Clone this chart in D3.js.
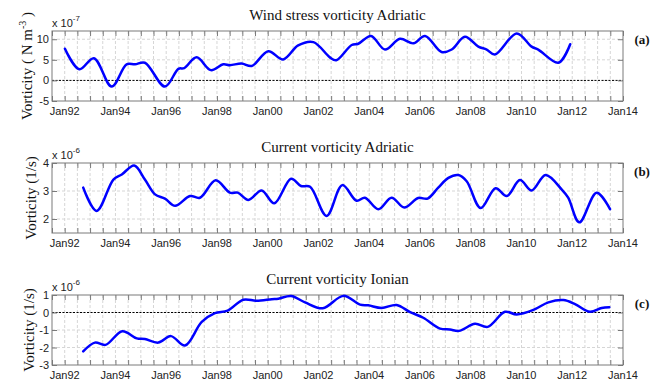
<!DOCTYPE html>
<html>
<head>
<meta charset="utf-8">
<script src="https://cdn.jsdelivr.net/npm/d3@7"></script>
<style>
  html, body { margin: 0; padding: 0; background: #fff; }
  svg { display: block; }
</style>
</head>
<body>
<svg id="chart" width="660" height="386"></svg>
<script>
// Time axis (decimal years) and its labels
const xLimits = [1991.5, 2014];
const xTickYears = [1992, 1994, 1996, 1998, 2000, 2002, 2004, 2006, 2008, 2010, 2012, 2014];
const xTickLabels = ["Jan92", "Jan94", "Jan96", "Jan98", "Jan00", "Jan02", "Jan04", "Jan06", "Jan08", "Jan10", "Jan12", "Jan14"];

// (a) Wind stress vorticity Adriatic, x 10^-7 N m^-3
const windYears = [1992.01, 1992.58, 1993.15, 1993.85, 1994.44, 1994.77, 1995.16, 1995.95, 1996.48, 1996.71, 1997.2, 1997.76, 1998.25, 1998.51, 1998.97, 1999.37, 2000.02, 2000.61, 2001.2, 2001.8, 2002.45, 2002.7, 2003.31, 2003.57, 2004.07, 2004.62, 2005.21, 2005.74, 2006.2, 2006.85, 2007.25, 2007.77, 2008.3, 2008.63, 2008.95, 2009.81, 2010.4, 2010.66, 2011.45, 2011.92];
const windValues = [7.7, 2.7, 5.4, -1.5, 3.9, 3.9, 4.3, -1.5, 2.8, 3.0, 5.6, 2.5, 3.9, 3.7, 4.1, 3.5, 7.1, 5.1, 8.5, 9.3, 5.6, 4.9, 8.6, 8.9, 10.8, 7.5, 10.1, 9.0, 10.8, 6.9, 7.5, 10.6, 8.2, 7.5, 6.3, 11.4, 8.2, 7.5, 4.3, 8.8];

// (b) Current vorticity Adriatic, x 10^-6 1/s
const adriaticYears = [1992.73, 1993.26, 1993.92, 1994.25, 1994.74, 1995.16, 1995.56, 1995.95, 1996.35, 1996.94, 1997.33, 1997.95, 1998.51, 1998.82, 1999.24, 1999.76, 2000.26, 2000.92, 2001.31, 2001.67, 2002.32, 2002.94, 2003.5, 2003.83, 2004.36, 2004.88, 2005.38, 2005.93, 2006.3, 2006.72, 2007.12, 2007.51, 2007.84, 2008.39, 2008.98, 2009.42, 2009.94, 2010.4, 2010.95, 2011.58, 2011.84, 2012.28, 2012.96, 2013.49];
const adriaticValues = [3.12, 2.29, 3.41, 3.59, 3.91, 3.41, 2.88, 2.73, 2.47, 2.82, 2.76, 3.38, 2.94, 2.94, 2.68, 3.02, 2.56, 3.44, 3.18, 3.15, 2.11, 3.21, 2.65, 2.76, 2.35, 2.76, 2.41, 2.75, 2.73, 3.12, 3.47, 3.57, 3.35, 2.39, 3.10, 2.82, 3.39, 3.02, 3.57, 3.06, 2.76, 1.88, 2.94, 2.35];

// (c) Current vorticity Ionian, x 10^-6 1/s
const ionianYears = [1992.73, 1993.19, 1993.61, 1994.27, 1994.84, 1995.16, 1995.69, 1996.19, 1996.74, 1997.4, 1997.92, 1998.42, 1999.04, 1999.56, 2000.16, 2000.42, 2000.92, 2001.47, 2002.17, 2002.98, 2003.64, 2003.96, 2004.49, 2005.08, 2005.61, 2006.13, 2006.79, 2007.18, 2007.54, 2008.17, 2008.67, 2009.35, 2009.81, 2010.47, 2011.06, 2011.65, 2012.11, 2012.7, 2013.16, 2013.46];
const ionianValues = [-2.22, -1.72, -1.85, -1.07, -1.48, -1.52, -1.72, -1.35, -1.89, -0.54, -0.04, 0.11, 0.73, 0.67, 0.76, 0.79, 0.94, 0.58, 0.24, 0.95, 0.45, 0.41, 0.26, 0.43, 0.02, -0.30, -0.92, -0.97, -1.05, -0.64, -0.82, 0.04, -0.11, 0.15, 0.58, 0.71, 0.48, 0.04, 0.26, 0.30];

// Panel settings
const panels = [
  { title: "Wind stress vorticity Adriatic", tag: "(a)", years: windYears, values: windValues,
    yDomain: [-5, 12], yTicks: [-5, 0, 5, 10], exponent: "-7", zeroLine: true,
    yLabel: "wind", top: 31, labelX: 32 },
  { title: "Current vorticity Adriatic", tag: "(b)", years: adriaticYears, values: adriaticValues,
    yDomain: [1.5, 4], yTicks: [2, 3, 4], exponent: "-6", zeroLine: false,
    yLabel: "Vorticity (1/s)", top: 163, labelX: 36 },
  { title: "Current vorticity Ionian", tag: "(c)", years: ionianYears, values: ionianValues,
    yDomain: [-3, 1], yTicks: [-3, -2, -1, 0, 1], exponent: "-6", zeroLine: true,
    yLabel: "Vorticity (1/s)", top: 295, labelX: 34 }
];

const left = 52, right = 623, height = 70;
const serif = "'Liberation Serif', 'Times New Roman', serif";
const sans = "'Liberation Sans', Arial, sans-serif";
const boxColor = "#7a7a7a";
const gridColor = "#d6d6d6";

const svg = d3.select("#chart");
const x = d3.scaleLinear().domain(xLimits).range([left, right]);
const halfYearTicks = d3.range(xLimits[0], xLimits[1] + 0.001, 0.5);

panels.forEach(p => {
  const y = d3.scaleLinear().domain(p.yDomain).range([p.top + height, p.top]);
  const g = svg.append("g");

  // grid
  g.append("g").selectAll("line").data(halfYearTicks.slice(1, -1)).join("line")
    .attr("x1", d => x(d)).attr("x2", d => x(d))
    .attr("y1", p.top).attr("y2", p.top + height)
    .attr("stroke", gridColor).attr("stroke-width", 1).attr("stroke-dasharray", "3,2");
  g.append("g").selectAll("line").data(p.yTicks.filter(v => v > p.yDomain[0] && v < p.yDomain[1])).join("line")
    .attr("x1", left).attr("x2", right)
    .attr("y1", d => y(d)).attr("y2", d => y(d))
    .attr("stroke", gridColor).attr("stroke-width", 1).attr("stroke-dasharray", "3,2");

  // zero reference
  if (p.zeroLine) {
    g.append("line").attr("x1", left).attr("x2", right)
      .attr("y1", y(0)).attr("y2", y(0))
      .attr("stroke", "#000").attr("stroke-width", 1).attr("stroke-dasharray", "2,1.5");
  }

  // axes with inward ticks
  const xAxisBottom = d3.axisBottom(x).tickValues(halfYearTicks).tickSize(-5).tickFormat("");
  const xAxisTop = d3.axisTop(x).tickValues(halfYearTicks).tickSize(-5).tickFormat("");
  const yAxisLeft = d3.axisLeft(y).tickValues(p.yTicks).tickSize(-5).tickFormat("");
  const yAxisRight = d3.axisRight(y).tickValues(p.yTicks).tickSize(-5).tickFormat("");
  [[xAxisBottom, `translate(0,${p.top + height})`], [xAxisTop, `translate(0,${p.top})`],
   [yAxisLeft, `translate(${left},0)`], [yAxisRight, `translate(${right},0)`]].forEach(([ax, tr]) => {
    const a = g.append("g").attr("transform", tr).call(ax);
    a.select(".domain").remove();
    a.selectAll("line").attr("stroke", boxColor);
  });

  // tick labels
  g.append("g").selectAll("text").data(xTickYears).join("text")
    .attr("x", (d) => x(d)).attr("y", p.top + height + 14)
    .attr("text-anchor", "middle").attr("font-family", sans).attr("font-size", 11).attr("fill", "#222")
    .text((d, i) => xTickLabels[i]);
  g.append("g").selectAll("text").data(p.yTicks).join("text")
    .attr("x", left - 3).attr("y", d => y(d) + 4)
    .attr("text-anchor", "end").attr("font-family", sans).attr("font-size", 11).attr("fill", "#222")
    .text(d => d);

  // exponent marker
  const ex = g.append("text").attr("x", left).attr("y", p.top - 4)
    .attr("font-family", sans).attr("font-size", 11).attr("fill", "#222");
  ex.append("tspan").text("x 10");
  ex.append("tspan").attr("dy", -6).attr("font-size", 8).text(p.exponent);

  // frame
  g.append("rect").attr("x", left).attr("y", p.top).attr("width", right - left).attr("height", height)
    .attr("fill", "none").attr("stroke", boxColor).attr("stroke-width", 1);

  // series
  const line = d3.line().x(d => x(d[0])).y(d => y(d[1])).curve(d3.curveCatmullRom.alpha(0.5));
  g.append("path").datum(d3.zip(p.years, p.values))
    .attr("d", line).attr("fill", "none").attr("stroke", "#0000ff")
    .attr("stroke-width", 2.5).attr("stroke-linejoin", "round").attr("stroke-linecap", "round");

  // title
  g.append("text").attr("x", (left + right) / 2).attr("y", p.top - 11)
    .attr("text-anchor", "middle").attr("font-family", serif).attr("font-size", 15).attr("fill", "#111")
    .text(p.title);

  // panel tag
  g.append("text").attr("x", 642).attr("y", p.top + 13)
    .attr("text-anchor", "middle").attr("font-family", serif).attr("font-weight", "bold")
    .attr("font-size", 13).attr("fill", "#111").text(p.tag);

  // y label
  const yl = g.append("text")
    .attr("transform", `translate(${p.labelX},${p.top + height / 2}) rotate(-90)`)
    .attr("text-anchor", "middle").attr("font-family", serif).attr("font-size", 15).attr("fill", "#111");
  if (p.yLabel === "wind") {
    yl.append("tspan").text("Vorticity ( N m");
    yl.append("tspan").attr("dy", -6).attr("font-size", 10).text("-3");
    yl.append("tspan").attr("dy", 6).text(" )");
  } else {
    yl.text(p.yLabel);
  }
});
</script>
</body>
</html>
